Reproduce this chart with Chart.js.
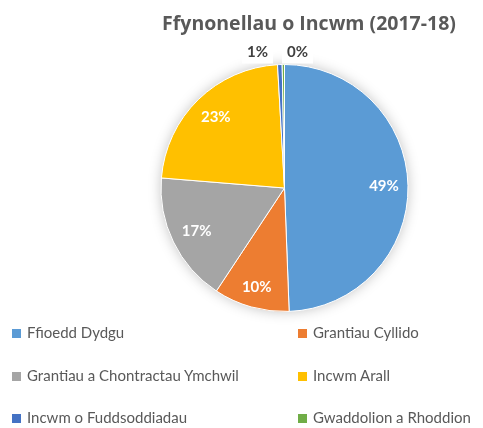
<!DOCTYPE html>
<html>
<head>
<meta charset="utf-8">
<script src="https://cdn.jsdelivr.net/npm/chart.js@4.4.0/dist/chart.umd.min.js"></script>
<style>
  html, body { margin: 0; padding: 0; background: #fff; }
  #wrap { position: relative; width: 483px; height: 428px; overflow: hidden; }
  #pieChart { position: absolute; left: 0; top: 0; }
  .leg { position: absolute; font-family: Lato, sans-serif; font-size: 15px; color: #595959; white-space: nowrap; line-height: 18px; }
  .leg span { display: inline-block; width: 9px; height: 9px; margin-right: 6px; vertical-align: 0px; }
</style>
</head>
<body>
<div id="wrap">
  <canvas id="pieChart" width="483" height="428"></canvas>
</div>
<script>
const chartTitle = 'Ffynonellau o Incwm (2017-18)';
const categories = [
    'Ffioedd Dydgu',
    'Grantiau Cyllido',
    'Grantiau a Chontractau Ymchwil',
    'Incwm Arall',
    'Incwm o Fuddsoddiadau',
    'Gwaddolion a Rhoddion'
];
const shares = [49.4, 9.9, 17.0, 22.8, 0.6, 0.3];
const sliceColors = ['#5B9BD5', '#ED7D31', '#A5A5A5', '#FFC000', '#4472C4', '#70AD47'];

// legend: two columns, three rows, under the pie
const wrap = document.getElementById('wrap');
categories.forEach(function(name, i) {
    const item = document.createElement('div');
    item.className = 'leg';
    item.style.left = (i % 2 === 0 ? 12 : 298) + 'px';
    item.style.top = (323 + Math.floor(i / 2) * 42.5) + 'px';
    item.innerHTML = '<span style="background:' + sliceColors[i] + '"></span>';
    item.appendChild(document.createTextNode(name));
    wrap.appendChild(item);
});

const titlePlugin = {
    id: 'titlePlugin',
    afterDraw(chart) {
        const ctx = chart.ctx;
        ctx.save();
        ctx.font = 'bold 19.5px "Open Sans", sans-serif';
        ctx.fillStyle = '#595959';
        ctx.textAlign = 'center';
        ctx.textBaseline = 'middle';
        ctx.fillText(chartTitle, 309, 24);
        ctx.restore();
    }
};

// soft shadow behind the whole pie
const shadowPlugin = {
    id: 'shadowPlugin',
    beforeDatasetsDraw(chart) {
        const arc = chart.getDatasetMeta(0).data[0];
        if (!arc) return;
        const ctx = chart.ctx;
        ctx.save();
        ctx.shadowColor = 'rgba(0,0,0,0.28)';
        ctx.shadowBlur = 14;
        ctx.fillStyle = '#fff';
        ctx.beginPath();
        ctx.arc(arc.x, arc.y, arc.outerRadius - 1, 0, Math.PI * 2);
        ctx.fill();
        ctx.restore();
    }
};

const labelPlugin = {
    id: 'labelPlugin',
    afterDatasetsDraw(chart) {
        const ctx = chart.ctx;
        const meta = chart.getDatasetMeta(0);
        const total = shares.reduce((a, b) => a + b, 0);
        const outsideOffsets = [-27, 13];
        let outsideIdx = 0;
        ctx.save();
        ctx.font = 'bold 15px Lato, sans-serif';
        ctx.textAlign = 'center';
        ctx.textBaseline = 'middle';
        meta.data.forEach(function(arc, i) {
            const pct = Math.round(shares[i] / total * 100) + '%';
            const w = ctx.measureText(pct).width;
            const mid = (arc.startAngle + arc.endAngle) / 2;
            const r = arc.outerRadius;
            if (shares[i] / total < 0.02) {
                const x = arc.x + outsideOffsets[outsideIdx++];
                const y = arc.y - r - 12;
                ctx.fillStyle = '#fff';
                ctx.fillRect(x - w / 2 - 5, y - 11, w + 10, 22);
                ctx.fillStyle = '#404040';
                ctx.fillText(pct, x, y);
            } else {
                const ext = Math.abs(Math.cos(mid)) * w / 2 + Math.abs(Math.sin(mid)) * 8;
                const d = r - 9 - ext;
                ctx.fillStyle = '#fff';
                ctx.fillText(pct, arc.x + Math.cos(mid) * d, arc.y + Math.sin(mid) * d);
            }
        });
        ctx.restore();
    }
};

new Chart(document.getElementById('pieChart'), {
    type: 'pie',
    data: {
        labels: categories,
        datasets: [{
            data: shares,
            backgroundColor: sliceColors,
            borderColor: '#fff',
            borderWidth: 1
        }]
    },
    options: {
        responsive: false,
        animation: false,
        layout: { padding: { left: 160, right: 74, top: 64, bottom: 116 } },
        plugins: {
            legend: { display: false },
            tooltip: { enabled: false },
            title: { display: false }
        }
    },
    plugins: [shadowPlugin, labelPlugin, titlePlugin]
});
</script>
</body>
</html>
